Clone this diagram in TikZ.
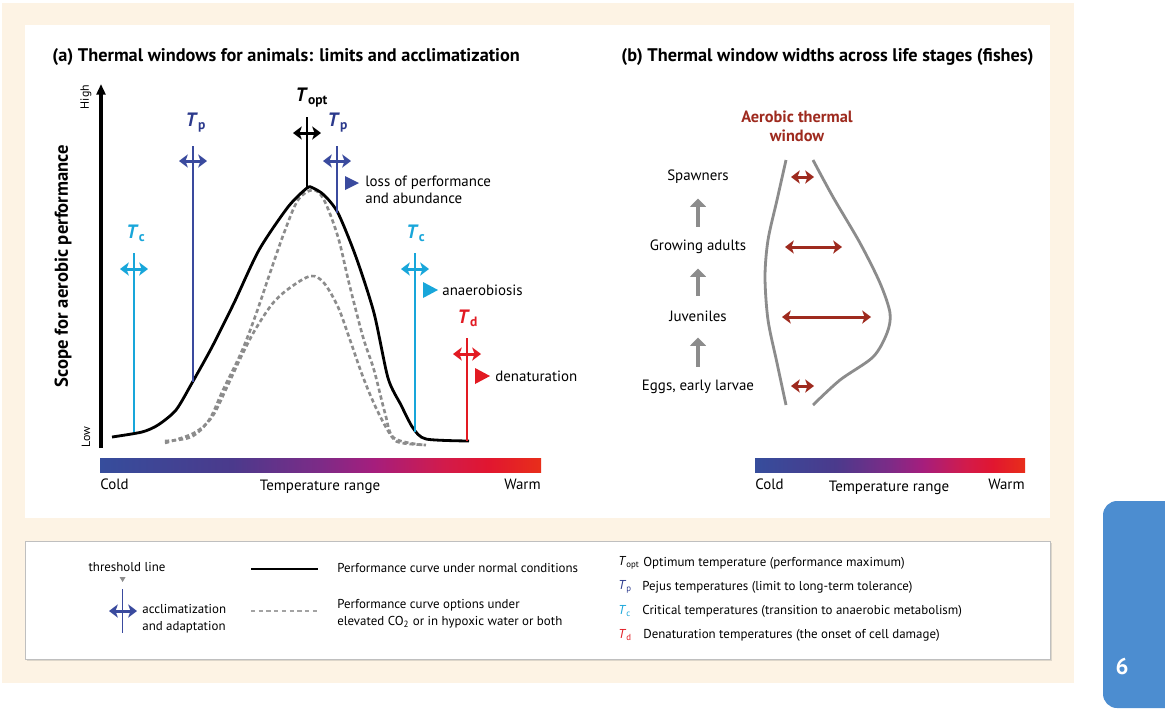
\documentclass[tikz,border=0pt]{standalone}
\usepackage{fontspec}
\setmainfont{PT Sans}
\usepackage{tikz}
\usetikzlibrary{arrows.meta,positioning,shapes.geometric,shadows}

\definecolor{cream}{RGB}{253,243,228}
\definecolor{tpblue}{RGB}{58,74,158}
\definecolor{tpdark}{RGB}{43,57,140}
\definecolor{tccyan}{RGB}{24,166,218}
\definecolor{tdred}{RGB}{226,26,34}
\definecolor{winred}{RGB}{158,42,30}
\definecolor{curvegray}{RGB}{140,140,140}
\definecolor{tabblue}{RGB}{76,141,208}
\definecolor{barA}{RGB}{54,77,156}
\definecolor{barB}{RGB}{75,58,140}
\definecolor{barC}{RGB}{125,43,135}
\definecolor{barD}{RGB}{165,30,125}
\definecolor{barE}{RGB}{210,27,75}
\definecolor{barF}{RGB}{225,22,48}
\definecolor{barG}{RGB}{232,46,26}

\pgfdeclarehorizontalshading{tempbar}{100bp}{color(0bp)=(barA); color(25bp)=(barA);
  color(40bp)=(barB); color(50bp)=(barC); color(56bp)=(barD); color(64bp)=(barE);
  color(69bp)=(barF); color(75bp)=(barG); color(100bp)=(barG)}

\tikzset{
  ttl/.style={font=\fontsize{10.4}{12}\selectfont\bfseries, inner sep=0pt},
  body/.style={font=\fontsize{8.5}{9.6}\selectfont, inner sep=0pt, align=left},
  lgd/.style={font=\fontsize{7.35}{9.5}\selectfont, inner sep=0pt, align=left},
  tlab/.style={font=\fontsize{11}{12}\selectfont\bfseries, inner sep=0pt},
  normcurve/.style={line width=1.6pt, black, line join=round},
  optcurve/.style={line width=1.5pt, curvegray, dash pattern=on 2.4pt off 1.6pt},
  thresh/.style={line width=1pt},
  acc/.style={line width=1.7pt, {Stealth[length=5pt,width=7.5pt,inset=1.3pt]}-{Stealth[length=5pt,width=7.5pt,inset=1.3pt]}},
  stagearr/.style={line width=2.3pt, curvegray, -{Triangle[length=4.8pt,width=9pt]}},
  wincurve/.style={line width=1.6pt, curvegray},
}

\begin{document}
\begin{tikzpicture}[x=0.02cm, y=-0.02cm]
  \useasboundingbox (0,0) rectangle (1165,711);
  \fill[white] (0,0) rectangle (1165,711);
  \fill[cream] (2,3) rectangle (1074,683);
  \fill[white] (25,25) rectangle (1050,518);
  \fill[tabblue, rounded corners=8pt] (1103,501) rectangle (1190,708);
  \node[font=\fontsize{13}{14}\selectfont\bfseries, text=white] (tabnum) at (1122,666) {6};

  % (a) thermal windows
  \node[ttl, anchor=west] (titleA) at (52,57) {(a) Thermal windows for animals: limits and acclimatization};
  \draw[line width=2pt, -{Triangle[length=6pt,width=5pt]}] (101,448) -- (101,84);
  \node[font=\fontsize{6.8}{8}\selectfont, rotate=90, inner sep=0pt] (high) at (86,97) {High};
  \node[font=\fontsize{6.8}{8}\selectfont, rotate=90, inner sep=0pt] (low) at (86,437) {Low};
  \node[font=\fontsize{10.6}{12}\selectfont\bfseries, rotate=90, inner sep=0pt] (ylab) at (63,266) {Scope for aerobic performance};

  \draw[optcurve] plot[smooth, tension=0.55] coordinates {(165,441) (191,437) (209,420) (223,390)
    (241,353) (255,317) (270,273) (284,233) (298,200) (313,190) (324,200) (338,237) (349,283)
    (363,337) (374,370) (385,413) (394,438) (424,445)};
  \draw[optcurve] plot[smooth, tension=0.55] coordinates {(165,443) (194,433) (212,417) (227,387)
    (241,357) (255,330) (273,303) (291,287) (311,276) (324,283) (338,307) (349,337) (363,377)
    (377,410) (392,437) (402,443) (426,445)};
  \draw[normcurve] plot[smooth, tension=0.45] coordinates {(112,437) (142,432) (158,425) (176,410)
    (192,383) (212,347) (234,303) (259,250) (288,207) (307,188) (313,188) (324,195) (338,213)
    (356,257) (374,313) (388,378) (401,405) (413,428) (426,439) (469,441)};

  % threshold lines with acclimatization arrows
  \foreach \nm/\x/\top/\bot/\arr/\col in {tcL/134/253/432/269/tccyan, tpL/193/146/382/161/tpblue,
      topt/307/117/188/133/black, tpR/337/146/213/161/tpblue, tcR/415/253/432/269/tccyan,
      td/467/338/441/354/tdred}{
    \coordinate (\nm-top) at (\x,\top);
    \coordinate (\nm-bot) at (\x,\bot);
    \draw[thresh, \col] (\nm-top) -- (\nm-bot);
    \draw[acc, \col] (\x-14,\arr) -- (\x+14,\arr);
  }
  \node[tlab, tccyan] (tcL-lab) at (136,233) {\textit{T}\textsubscript{c}};
  \node[tlab, tpdark] (tpL-lab) at (196,123) {\textit{T}\textsubscript{p}};
  \node[tlab] (topt-lab) at (312,98) {\textit{T}\textsubscript{opt}};
  \node[tlab, tpdark] (tpR-lab) at (338,123) {\textit{T}\textsubscript{p}};
  \node[tlab, tccyan] (tcR-lab) at (416,233) {\textit{T}\textsubscript{c}};
  \node[tlab, tdred] (td-lab) at (468,318) {\textit{T}\textsubscript{d}};

  \node[body, anchor=west] (loss) at (365,190) {loss of performance\\and abundance};
  \node[body, anchor=west] (anaero) at (442,290) {anaerobiosis};
  \node[body, anchor=west] (denat) at (495,376) {denaturation};
  \fill[tpblue] (loss.west) ++(-20,-14) -- ++(14,7) -- ++(-14,7) -- cycle;
  \fill[tccyan] (anaero.west) ++(-19,-8) -- ++(15,8) -- ++(-15,8) -- cycle;
  \fill[tdred] (denat.west) ++(-20,-8) -- ++(15,8) -- ++(-15,8) -- cycle;

  \shade[shading=tempbar] (100,458) rectangle (541,472);
  \node[body, anchor=west] (coldA) at (100,484) {Cold};
  \node[body] (rangeA) at (320,487) {Temperature range};
  \node[body, anchor=east] (warmA) at (541,484) {Warm};

  % (b) life stages
  \node[ttl, anchor=west] (titleB) at (621,57) {(b) Thermal window widths across life stages (fishes)};
  \node[ttl, winred, align=center, font=\fontsize{9.3}{11}\selectfont\bfseries] (awin) at (797,126) {Aerobic thermal\\window};
  \draw[wincurve] plot[smooth] coordinates {(786,160) (777,200) (768,240) (765,277) (768,320) (777,363) (786,405)};
  \draw[wincurve] plot[smooth] coordinates {(813,160) (833,197) (860,243) (880,283) (890,313)
    (887,333) (873,357) (840,380) (813,405)};

  \node[body] (spawn) at (698,177) {Spawners};
  \node[body] (grow) at (698,247) {Growing adults};
  \node[body] (juv) at (698,316) {Juveniles};
  \node[body] (eggs) at (698,387) {Eggs, early larvae};
  \draw[stagearr, shorten <=0.41cm, shorten >=0.43cm] (grow.center) -- (spawn.center);
  \draw[stagearr, shorten <=0.41cm, shorten >=0.43cm] (juv.center) -- (grow.center);
  \draw[stagearr, shorten <=0.41cm, shorten >=0.43cm] (eggs.center) -- (juv.center);

  \draw[acc, winred] (791,177) -- (814,177);
  \draw[acc, winred] (785,247) -- (842,247);
  \draw[acc, winred] (782,317) -- (871,317);
  \draw[acc, winred] (791,386) -- (814,386);

  \shade[shading=tempbar] (755,458) rectangle (1025,472);
  \node[body, anchor=west] (coldB) at (755,484) {Cold};
  \node[body] (rangeB) at (889,488) {Temperature range};
  \node[body, anchor=east] (warmB) at (1025,484) {Warm};

  % legend
  \path[fill=white, draw=black!25, drop shadow={opacity=0.25, shadow xshift=1pt, shadow yshift=-1pt}]
    (25,541) rectangle (1050,659);
  \node[lgd] (thr) at (127,567) {threshold line};
  \coordinate (acc-top) at (122.6,589);
  \coordinate (acc-bot) at (122.6,633);
  \fill[curvegray] (acc-top) ++(-3,-12) -- ++(6,0) -- ++(-3,5) -- cycle;
  \draw[thresh, tpblue] (acc-top) -- (acc-bot);
  \draw[acc, tpblue] (109,611) -- (137,611);
  \node[lgd, anchor=west] (acclim) at (142,619) {acclimatization\\and adaptation};

  \draw[normcurve] (251,569) -- (318,569);
  \draw[curvegray!80, line width=1.1pt, dash pattern=on 2.4pt off 2pt] (251,611) -- (318,611);
  \node[lgd, anchor=west] (normtxt) at (337,568) {Performance curve under normal conditions};
  \node[lgd, anchor=west] (opttxt) at (337,614) {Performance curve options under\\elevated CO\textsubscript{2} or in hypoxic water or both};

  \node[lgd, anchor=west] (l-topt) at (618,563) {\textit{T}\textsubscript{\tiny opt}};
  \node[lgd, anchor=west, tpdark] (l-tp) at (618,587) {\textit{T}\textsubscript{\tiny p}};
  \node[lgd, anchor=west, tccyan] (l-tc) at (618,611) {\textit{T}\textsubscript{\tiny c}};
  \node[lgd, anchor=west, tdred] (l-td) at (618,635) {\textit{T}\textsubscript{\tiny d}};
  \node[lgd, anchor=west] (d-topt) at (643,563) {Optimum temperature (performance maximum)};
  \node[lgd, anchor=west] (d-tp) at (642,587) {Pejus temperatures (limit to long-term tolerance)};
  \node[lgd, anchor=west] (d-tc) at (642,611) {Critical temperatures (transition to anaerobic metabolism)};
  \node[lgd, anchor=west] (d-td) at (643,635) {Denaturation temperatures (the onset of cell damage)};
\end{tikzpicture}
\end{document}
